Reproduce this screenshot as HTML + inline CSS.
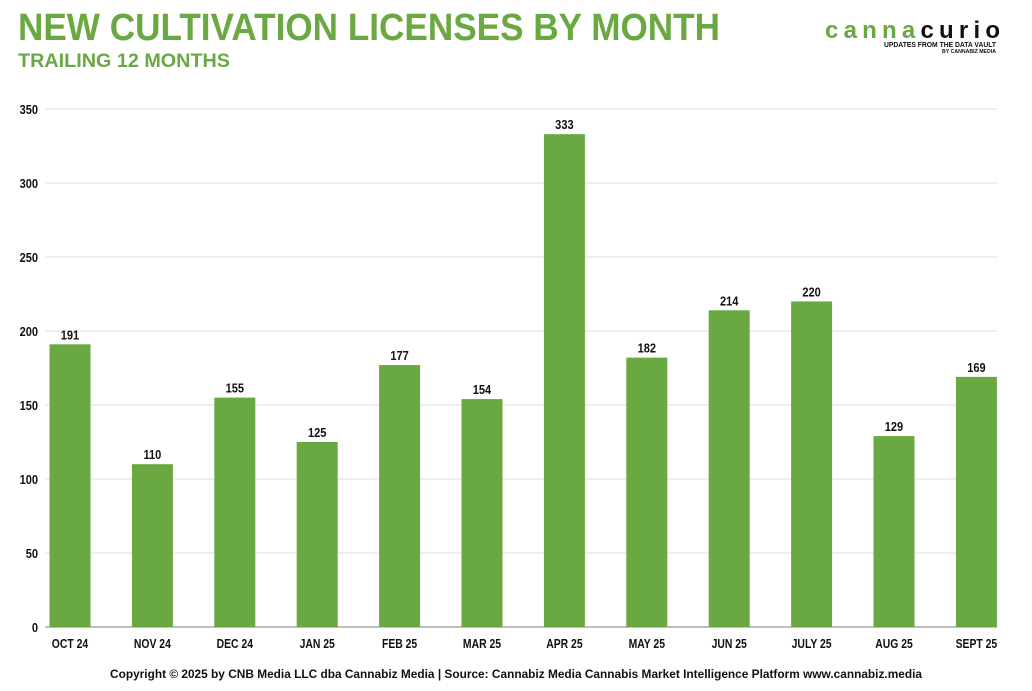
<!DOCTYPE html>
<html><head><meta charset="utf-8"><style>
body{margin:0;background:#fff;width:1032px;height:686px;overflow:hidden;font-family:"Liberation Sans",sans-serif}
</style></head><body>
<svg width="1032" height="686" xmlns="http://www.w3.org/2000/svg">
<text x="18" y="40" font-size="38" font-weight="bold" fill="#6aa842" textLength="702" lengthAdjust="spacingAndGlyphs">NEW CULTIVATION LICENSES BY MONTH</text>
<text x="18" y="67" font-size="19" font-weight="bold" fill="#6aa842" textLength="212" lengthAdjust="spacingAndGlyphs">TRAILING 12 MONTHS</text>
<g>
<text x="825" y="38" font-size="24" font-weight="bold" fill="#6aa842" textLength="175" lengthAdjust="spacing">canna<tspan fill="#111">curio</tspan></text>
<text x="884" y="47" font-size="7" font-weight="bold" fill="#111" textLength="112" lengthAdjust="spacingAndGlyphs">UPDATES FROM THE DATA VAULT</text>
<text x="942" y="53" font-size="5" font-weight="bold" fill="#111" textLength="54" lengthAdjust="spacingAndGlyphs">BY CANNABIZ MEDIA</text>
</g>
<g id="grid"></g><g id="bars"></g>
<text x="516" y="678" font-size="11.5" font-weight="bold" fill="#111" text-anchor="middle" textLength="812" lengthAdjust="spacingAndGlyphs">Copyright © 2025 by CNB Media LLC dba Cannabiz Media | Source: Cannabiz Media Cannabis Market Intelligence Platform www.cannabiz.media</text>
</svg>
<script>
const categories=["OCT 24","NOV 24","DEC 24","JAN 25","FEB 25","MAR 25","APR 25","MAY 25","JUN 25","JULY 25","AUG 25","SEPT 25"];
const values=[191,110,155,125,177,154,333,182,214,220,129,169];
const ticks=[0,50,100,150,200,250,300,350];
const NS="http://www.w3.org/2000/svg";
const y0=627,yTop=109,maxV=350;
const y=v=>y0-(v/maxV)*(y0-yTop);
const x=i=>70+i*82.4;
const g=document.getElementById('grid'),b=document.getElementById('bars');
function mk(tag,at,parent,txt){const e=document.createElementNS(NS,tag);for(const k in at)e.setAttribute(k,at[k]);if(txt!=null)e.textContent=txt;parent.appendChild(e);return e;}
ticks.forEach(t=>{
 const l=mk('line',{x1:45,x2:997,y1:y(t),y2:y(t),stroke:t===0?'#aaa':'#ddd','stroke-width':t===0?1.5:1},g);
 
 
 const tx=mk('text',{x:38/0.85,y:y(t)+5,'font-size':13,'font-weight':'bold','text-anchor':'end',fill:'#111',transform:'scale(0.85,1)'},g,t);
 
 
});
values.forEach((v,i)=>{
 const r=mk('rect',{x:x(i)-20.5,y:y(v),width:41,height:y0-y(v),fill:'#6aa842'},b);
 
 
 const lb=mk('text',{x:x(i),y:y(v)-5,'font-size':13,'font-weight':'bold','text-anchor':'middle',fill:'#111',transform:`translate(${x(i)*0.15},0) scale(0.85,1)`},b,v);
 
 
 const c=mk('text',{x:x(i),y:648,'font-size':13,'font-weight':'bold','text-anchor':'middle',fill:'#111',transform:`translate(${x(i)*0.2},0) scale(0.8,1)`},b,categories[i]);
 
 
});
</script>
</body></html>
